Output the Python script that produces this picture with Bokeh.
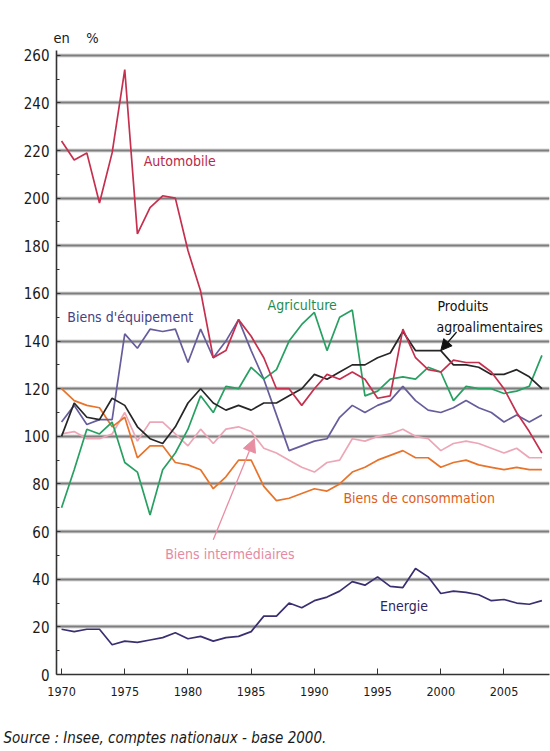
from bokeh.plotting import figure
from bokeh.models import (Label, Arrow, NormalHead, Range1d, FixedTicker, Grid,
                          ColumnDataSource, Title)
from bokeh.embed import file_html
from bokeh.resources import INLINE

# ---------------- data ----------------
years = list(range(1970, 2009))

automobile = [224, 216, 219, 198, 219, 254, 185, 196, 201, 200,
              178, 161, 133, 136, 149, 142, 133, 120, 120, 113,
              120, 126, 124, 127, 124, 116, 117, 145, 133, 128,
              127, 132, 131, 131, 127, 120, 110, 102, 93]
agriculture = [70, 86, 103, 101, 106, 89, 85, 67, 86, 93,
               103, 117, 110, 121, 120, 129, 124, 128, 140, 147,
               152, 136, 150, 153, 117, 119, 124, 125, 124, 129,
               127, 115, 121, 120, 120, 118, 119, 121, 134]
agroalimentaires = [100, 114, 108, 107, 116, 113, 104, 99, 97, 104,
                    114, 120, 114, 111, 113, 111, 114, 114, 117, 120,
                    126, 124, 127, 130, 130, 133, 135, 144, 136, 136,
                    136, 130, 130, 129, 126, 126, 128, 125, 120]
equipement = [106, 113, 105, 107, 107, 143, 137, 145, 144, 145,
              131, 145, 133, 140, 149, 136, 124, 109, 94, 96,
              98, 99, 108, 113, 110, 113, 115, 121, 115, 111,
              110, 112, 115, 112, 110, 106, 109, 106, 109]
consommation = [120, 115, 113, 112, 104, 108, 91, 96, 96, 89,
                88, 86, 78, 83, 90, 90, 79, 73, 74, 76,
                78, 77, 80, 85, 87, 90, 92, 94, 91, 91,
                87, 89, 90, 88, 87, 86, 87, 86, 86]
intermediaires = [101, 102, 99, 99, 101, 110, 98, 106, 106, 101,
                  96, 103, 97, 103, 104, 102, 95, 93, 90, 87,
                  85, 89, 90, 99, 98, 100, 101, 103, 100, 99,
                  94, 97, 98, 97, 95, 93, 95, 91, 91]
energie = [19, 18, 19, 19, 12.5, 14, 13.5, 14.5, 15.5, 17.5,
           15, 16, 14, 15.5, 16, 18, 24.5, 24.5, 30, 28,
           31, 32.5, 35, 39, 37.5, 41, 37, 36.5, 44.5, 41,
           34, 35, 34.5, 33.5, 31, 31.5, 30, 29.5, 31]

y_ticks = list(range(0, 261, 20))
x_ticks = list(range(1970, 2006, 5))

FONT = "DejaVu Sans Condensed, Liberation Sans, sans-serif"

src = ColumnDataSource(dict(year=years, automobile=automobile, agriculture=agriculture,
                            agro=agroalimentaires, equipement=equipement,
                            consommation=consommation, intermediaires=intermediaires,
                            energie=energie))

p = figure(width=550, height=751, x_range=Range1d(1969.6, 2008.6),
           y_range=Range1d(0, 262), output_backend="svg", toolbar_location=None,
           min_border_left=56, min_border_right=1, min_border_top=50,
           min_border_bottom=77)
p.outline_line_color = None
p.background_fill_color = "white"
p.border_fill_color = "white"

# "en %" above the axis
p.title.text = "en\u00a0\u00a0\u00a0\u00a0%"
p.title.align = "left"
p.title.offset = -3
p.title.text_font = FONT
p.title.text_font_size = "14.5px"
p.title.text_font_style = "normal"
p.title.text_color = "#1a1a1a"
p.title.standoff = 10

# grid
p.xgrid.visible = False
p.ygrid.ticker = FixedTicker(ticks=y_ticks[1:])
p.ygrid.grid_line_color = "#7e7e7e"
p.ygrid.grid_line_width = 2
halo = Grid(dimension=1, ticker=FixedTicker(ticks=y_ticks[1:]),
            grid_line_color="#d8d8d8", grid_line_width=4)
p.center = [halo] + list(p.center)

# axes
yax = p.yaxis[0]
yax.ticker = FixedTicker(ticks=y_ticks, minor_ticks=list(range(10, 260, 20)))
yax.major_tick_in = 4
yax.major_tick_out = 0
yax.minor_tick_in = 3
yax.minor_tick_out = 0
yax.axis_line_width = 1.6
yax.axis_line_color = "#333333"
yax.major_tick_line_color = "#333333"
yax.minor_tick_line_color = "#333333"
yax.major_label_text_font = FONT
yax.major_label_text_font_size = "15px"
yax.major_label_text_color = "#1a1a1a"
yax.major_label_standoff = 7

xax = p.xaxis[0]
xax.ticker = FixedTicker(ticks=x_ticks, minor_ticks=[])
xax.major_tick_in = 6
xax.major_tick_out = 0
xax.axis_line_width = 1.6
xax.axis_line_color = "#333333"
xax.major_tick_line_color = "#333333"
xax.major_label_text_font = FONT
xax.major_label_text_font_size = "12.5px"
xax.major_label_text_color = "#1a1a1a"
xax.major_label_standoff = 12
# invisible spacer label pushing the source line down
xax.axis_label = "\u00a0"
xax.axis_label_text_font_size = "20px"
xax.axis_label_standoff = 2

# source line below
p.add_layout(Title(text="Source : Insee, comptes nationaux - base 2000.", align="left",
                   offset=-53, text_font=FONT, text_font_size="15px",
                   text_font_style="italic", text_color="#1a1a1a", standoff=2),
             "below")

# lines
series = [
    ("energie", "#3b2f72"),
    ("intermediaires", "#eda6b6"),
    ("consommation", "#e8742c"),
    ("equipement", "#665e9c"),
    ("agriculture", "#27a062"),
    ("agro", "#262626"),
    ("automobile", "#c5304f"),
]
for col, color in series:
    p.line("year", col, source=src, line_color=color, line_width=1.7)

# labels
def lab(text, x, y, color, size="14px"):
    p.add_layout(Label(x=x, y=y, text=text, text_color=color, text_font=FONT,
                       text_font_size=size, text_align="left", text_baseline="middle"))

lab("Automobile", 1976.5, 215.8, "#b8284a")
lab("Biens d'équipement", 1970.45, 150.3, "#4a4180")
lab("Agriculture", 1986.3, 155.3, "#1f8c50")
lab("Produits", 1999.74, 154.9, "#111111")
lab("agroalimentaires", 1999.66, 146.1, "#111111")
lab("Biens de consommation", 1992.3, 74.3, "#de5e20")
lab("Biens intermédiaires", 1978.2, 50.8, "#e58aa2")
lab("Energie", 1995.2, 28.6, "#2e2660")

# arrows
i2000 = years.index(2000)
p.add_layout(Arrow(end=NormalHead(size=11, fill_color="#111111", line_color="#111111"),
                   x_start=2001.25, y_start=143.8, x_end=2000.0,
                   y_end=agroalimentaires[i2000],
                   line_color="#111111", line_width=1.3))
i1985 = years.index(1985)
p.add_layout(Arrow(end=NormalHead(size=13, fill_color="#e88ea3", line_color="#e88ea3"),
                   x_start=1982.0, y_start=56.6, x_end=1985.25,
                   y_end=intermediaires[i1985] - 3,
                   line_color="#e88ea3", line_width=1.3))

open("out.html", "w").write(file_html(p, INLINE))
